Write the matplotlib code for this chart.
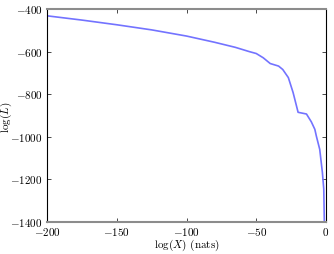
import matplotlib
matplotlib.use("Agg")
import matplotlib.pyplot as plt

plt.rcParams["font.family"] = "serif"
plt.rcParams["font.serif"] = ["cmr10"]
plt.rcParams["mathtext.fontset"] = "cm"
plt.rcParams["axes.formatter.use_mathtext"] = True

log_x = [-200, -175, -150, -125, -100, -80, -65, -55, -50, -45, -40, -34,
         -31, -27, -23.6, -20, -14, -10.5, -8, -6.9, -4.5, -2.6, -1.6, -1.2]
log_l = [-432, -452, -474, -498, -527, -556, -580, -600, -609, -629, -656, -668,
         -684, -722, -792, -885, -893, -930, -965, -997, -1059, -1167, -1245, -1400]

fig = plt.figure(figsize=(3.34, 2.54), dpi=100)
ax = fig.add_axes([47 / 334, 32 / 254, 279 / 334, 213 / 254])
ax.plot(log_x, log_l, color="#7373ff", lw=1.2)

ax.set_xlim(-200, 0)
ax.set_ylim(-1400, -400)
ax.set_xticks([-200, -150, -100, -50, 0])
ax.set_yticks([-1400, -1200, -1000, -800, -600, -400])
ax.tick_params(direction="in", top=True, right=True, labelsize=8, length=3, width=0.5, pad=2)
ax.tick_params(axis="x", pad=3)
ax.tick_params(axis="y", pad=3)
for side in ("top", "bottom"):
    ax.spines[side].set_color("#8c8c8c")
    ax.spines[side].set_linewidth(1.5)
for side in ("left", "right"):
    ax.spines[side].set_linewidth(0.8)

ax.set_xlabel(r"$\log(X)$ (nats)", fontsize=8)
ax.set_ylabel(r"$\log(L)$", fontsize=8)
ax.xaxis.set_label_coords(0.5, -0.075)
ax.yaxis.set_label_coords(-0.118, 0.49)

fig.savefig("out.png", dpi=100)
